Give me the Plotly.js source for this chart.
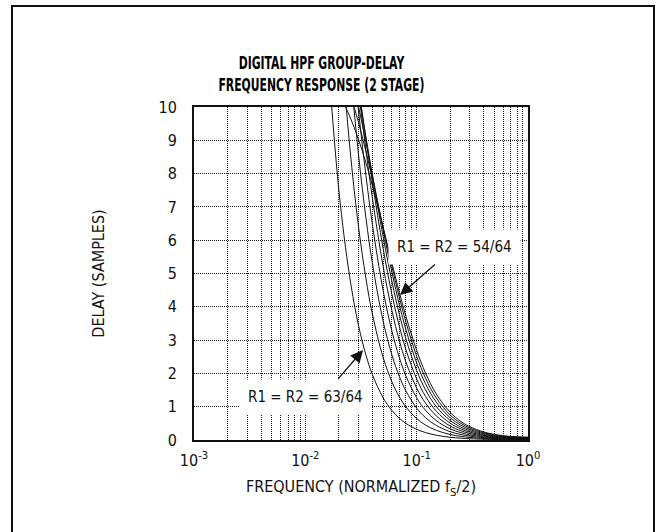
<!DOCTYPE html>
<html>
<head>
<meta charset="utf-8">
<script src="https://cdn.plot.ly/plotly-3.0.1.min.js"></script>
<style>html,body{margin:0;padding:0;background:#fff}#chart{width:656px;height:532px}</style>
</head>
<body>
<div id="chart"></div>
<script>
// Normalized frequency (fs/2) sample points
var freq = [0.01, 0.015, 0.02, 0.025, 0.03, 0.035, 0.04, 0.05, 0.06, 0.07, 0.08, 0.1, 0.12, 0.15, 0.2, 0.25, 0.3, 0.4, 0.5, 0.7, 1.0];

// Group delay (samples) for R1 = R2 = n/64
var d63 = [null, 12.76, 7.51, 4.91, 3.45, 2.556, 1.966, 1.266, 0.883, 0.651, 0.499, 0.321, 0.224, 0.144, 0.082, 0.054, 0.038, 0.023, 0.016, 0.010, 0.008];
var d62 = [null, null, 12.82, 8.85, 6.425, 4.853, 3.785, 2.478, 1.743, 1.291, 0.995, 0.642, 0.449, 0.290, 0.166, 0.108, 0.077, 0.046, 0.032, 0.020, 0.016];
var d61 = [null, null, null, 11.34, 8.59, 6.678, 5.314, 3.567, 2.546, 1.903, 1.475, 0.959, 0.673, 0.436, 0.250, 0.163, 0.116, 0.069, 0.048, 0.030, 0.024];
var d60 = [null, null, null, 12.50, 9.903, 7.951, 6.479, 4.486, 3.262, 2.468, 1.928, 1.266, 0.893, 0.581, 0.335, 0.219, 0.156, 0.094, 0.065, 0.041, 0.032];
var d59 = [null, null, null, 12.74, 10.51, 8.710, 7.274, 5.213, 3.874, 2.973, 2.345, 1.558, 1.107, 0.725, 0.419, 0.275, 0.196, 0.117, 0.081, 0.051, 0.041];
var d58 = [null, null, null, 12.43, 10.62, 9.056, 7.743, 5.745, 4.370, 3.408, 2.719, 1.833, 1.313, 0.866, 0.504, 0.331, 0.236, 0.142, 0.098, 0.062, 0.049];
var d57 = [null, null, null, 11.85, 10.41, 9.102, 7.951, 6.101, 4.752, 3.769, 3.044, 2.086, 1.509, 1.003, 0.587, 0.387, 0.277, 0.167, 0.115, 0.073, 0.058];
var d56 = [null, null, null, 11.15, 10.02, 8.948, 7.966, 6.305, 5.027, 4.057, 3.320, 2.314, 1.692, 1.136, 0.670, 0.444, 0.318, 0.191, 0.133, 0.084, 0.067];
var d55 = [null, null, 11.29, 10.43, 9.542, 8.671, 7.846, 6.387, 5.207, 4.275, 3.544, 2.517, 1.861, 1.263, 0.751, 0.500, 0.359, 0.217, 0.151, 0.095, 0.076];
var d54 = [null, 10.96, 10.38, 9.727, 9.030, 8.325, 7.638, 6.375, 5.305, 4.428, 3.721, 2.692, 2.016, 1.383, 0.831, 0.555, 0.400, 0.242, 0.168, 0.107, 0.085];

var seriesNames = ['63/64', '62/64', '61/64', '60/64', '59/64', '58/64', '57/64', '56/64', '55/64', '54/64'];
var seriesData = [d63, d62, d61, d60, d59, d58, d57, d56, d55, d54];

// Axis ticks
var xTickVals = [0.001, 0.01, 0.1, 1];
var xTickText = ['10<sup>-3</sup>', '10<sup>-2</sup>', '10<sup>-1</sup>', '10<sup>0</sup>'];
var xMinorVals = [0.002,0.003,0.004,0.005,0.006,0.007,0.008,0.009,
                  0.02,0.03,0.04,0.05,0.06,0.07,0.08,0.09,
                  0.2,0.3,0.4,0.5,0.6,0.7,0.8,0.9];
var yTickVals = [0,1,2,3,4,5,6,7,8,9,10];

var FONT = 'DejaVu Sans Condensed, Liberation Sans Narrow, Arial Narrow, sans-serif';

var traces = seriesData.map(function(d, i){
  return {
    x: freq, y: d, type: 'scatter', mode: 'lines', name: 'R1 = R2 = ' + seriesNames[i],
    line: {color: '#111', width: 1, shape: 'spline', smoothing: 1},
    connectgaps: false, hoverinfo: 'skip'
  };
});

var gridCol = '#1a1a1a';
var gridDash = '1px,1px';
var layout = {
  width: 656, height: 532,
  margin: {l: 194, r: 128, t: 107, b: 92},
  paper_bgcolor: '#fff', plot_bgcolor: '#fff',
  showlegend: false,
  font: {family: FONT, color: '#111', size: 16},
  title: {
    text: '<b>DIGITAL HPF GROUP-DELAY<br>FREQUENCY RESPONSE (2 STAGE)</b>',
    font: {family: 'DejaVu Sans, sans-serif', size: 17, color: '#000'},
    x: 0.49, xref: 'container', xanchor: 'center',
    y: 1 - 69/532, yref: 'container', yanchor: 'middle'
  },
  xaxis: {
    type: 'log', range: [-3, 0],
    tickmode: 'array', tickvals: xTickVals, ticktext: xTickText,
    showgrid: true, gridcolor: gridCol, griddash: gridDash, gridwidth: 1,
    minor: {tickmode: 'array', tickvals: xMinorVals, showgrid: true, gridcolor: gridCol, griddash: gridDash, gridwidth: 1, ticks: ''},
    showline: true, linecolor: '#111', linewidth: 2, mirror: true,
    ticks: '', ticklabelstandoff: 5,
    tickfont: {family: FONT, size: 16, color: '#111'},
    zeroline: false,
    title: {text: 'FREQUENCY (NORMALIZED f<sub>S</sub>/2)', font: {family: FONT, size: 16, color: '#111'}, standoff: 12}
  },
  yaxis: {
    range: [0, 10],
    tickmode: 'array', tickvals: yTickVals,
    showgrid: true, gridcolor: gridCol, griddash: gridDash, gridwidth: 1,
    showline: true, linecolor: '#111', linewidth: 2, mirror: true,
    ticks: '', ticklabelstandoff: 12,
    tickfont: {family: FONT, size: 16, color: '#111'},
    zeroline: false,
    title: {text: 'DELAY (SAMPLES)', font: {family: FONT, size: 16, color: '#111'}, standoff: 50}
  },
  shapes: [
    {type: 'rect', xref: 'paper', yref: 'paper',
     x0: (12-194)/334, x1: (654-194)/334, y0: (440-545)/333, y1: (440-6)/333,
     line: {color: '#111', width: 2}, fillcolor: 'rgba(0,0,0,0)', layer: 'below'}
  ],
  annotations: [
    {x: -1.150, y: 4.354, xref: 'x', yref: 'y', text: 'R1 = R2 = 54/64', showarrow: true,
     ax: 55, ay: -48, arrowhead: 2, arrowsize: 1.9, arrowwidth: 1.3, arrowcolor: '#111',
     bgcolor: '#fff', borderpad: 8, font: {family: FONT, size: 15, color: '#111'}},
    {x: -1.998, y: 1.29, xref: 'x', yref: 'y', text: 'R1 = R2 = 63/64', showarrow: false,
     bgcolor: '#fff', borderpad: 8, font: {family: FONT, size: 15, color: '#111'}},
    {x: -1.482, y: 2.70, xref: 'x', yref: 'y', text: '', showarrow: true,
     ax: -26, ay: 30, arrowhead: 2, arrowsize: 1.9, arrowwidth: 1.3, arrowcolor: '#111'}
  ]
};

Plotly.newPlot('chart', traces, layout, {displayModeBar: false, staticPlot: true}).then(function(gd){
  // emulate the condensed heavy title face by narrowing the title text horizontally
  var t = gd.querySelector('.gtitle');
  if (t) {
    var bb = t.getBBox();
    var cx = bb.x + bb.width / 2;
    var sx = bb.width > 0 ? 206 / bb.width : 1;
    if (sx > 0 && sx < 1) {
      t.setAttribute('transform', 'translate(' + cx + ',0) scale(' + sx + ',1) translate(' + (-cx) + ',0)');
    }
  }
});
</script>
</body>
</html>
